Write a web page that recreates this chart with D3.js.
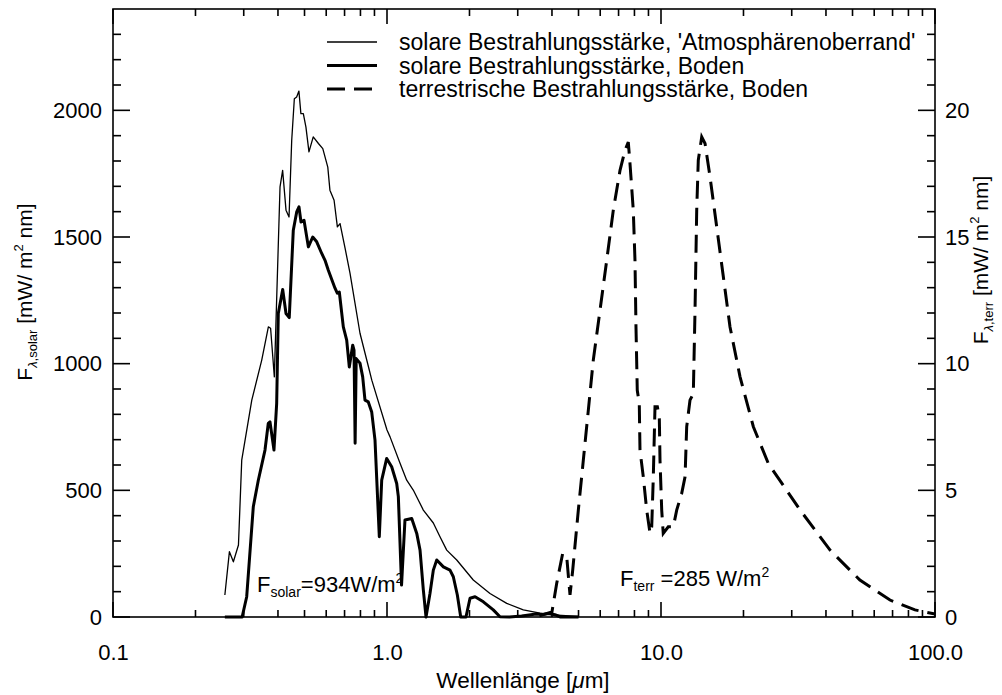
<!DOCTYPE html>
<html>
<head>
<meta charset="utf-8">
<script src="https://cdn.jsdelivr.net/npm/d3@7/dist/d3.min.js"></script>
<style>
  body { margin: 0; background: #fff; }
  text { font-family: "Liberation Sans", Arial, Helvetica, sans-serif; fill: #000; }
</style>
</head>
<body>
<div id="chart"></div>
<script>
// solar irradiance, top of atmosphere (mW / m2 nm), left axis
const toaWl = [0.256, 0.266, 0.275, 0.287, 0.295, 0.321, 0.349, 0.369, 0.376, 0.388,
  0.407, 0.416, 0.428, 0.439, 0.449, 0.459, 0.468, 0.477, 0.485, 0.495,
  0.506, 0.519, 0.538, 0.562, 0.583, 0.608, 0.619, 0.641, 0.659, 0.674,
  0.703, 0.733, 0.797, 0.862, 0.880, 1.0, 1.026, 1.115, 1.18, 1.247,
  1.357, 1.476, 1.561, 1.652, 1.797, 2.065, 2.376, 2.735, 3.144, 3.618, 4.036, 5.0];
const toaVal = [87, 258, 218, 284, 619, 856, 1014, 1145, 1140, 948,
  1698, 1763, 1606, 1579, 1882, 2046, 2053, 2076, 1987, 1987,
  1934, 1836, 1895, 1869, 1849, 1776, 1685, 1645, 1540, 1553,
  1456, 1356, 1120, 974, 935, 738, 711, 608, 540, 501,
  422, 371, 317, 264, 225, 146, 93, 54, 28, 15, 8, 2];

// solar irradiance at the ground (mW / m2 nm), left axis
const sfcWl = [0.256, 0.296, 0.3076, 0.3251, 0.3391, 0.3587, 0.3687, 0.3741, 0.3868, 0.3957,
  0.4011, 0.4162, 0.428, 0.4398, 0.455, 0.4682, 0.4773, 0.4854, 0.4979, 0.5164,
  0.5357, 0.554, 0.5778, 0.594, 0.6107, 0.646, 0.6585, 0.6698, 0.6927, 0.7127,
  0.7284, 0.7496, 0.758, 0.765, 0.772, 0.7969, 0.8152, 0.8311, 0.8545, 0.8795,
  0.9041, 0.9374, 0.9565, 0.9975, 1.04, 1.085, 1.1, 1.13, 1.163, 1.231,
  1.284, 1.32, 1.357, 1.388, 1.435, 1.476, 1.519, 1.606, 1.698, 1.746,
  1.806, 1.858, 1.942, 2.009, 2.096, 2.247, 2.443, 2.584, 2.8, 3.1,
  3.3, 3.5, 3.7, 3.9, 4.1, 4.3, 5.0];
const sfcVal = [0, 0, 80, 435, 540, 659, 764, 770, 659, 843,
  1198, 1293, 1198, 1182, 1527, 1599, 1619, 1559, 1566, 1461,
  1500, 1481, 1435, 1408, 1369, 1298, 1278, 1283, 1145, 1093,
  987, 1073, 1053, 686, 1020, 1002, 948, 856, 849, 809,
  698, 317, 540, 626, 593, 527, 475, 126, 383, 389,
  330, 264, 107, 0, 93, 185, 225, 198, 185, 159,
  87, 0, 0, 74, 80, 60, 28, 1, 0, 4,
  8, 12, 10, 14, 9, 0, 0];

// terrestrial irradiance at the ground (mW / m2 nm), right axis
const terWl = [3.6, 4.0, 4.163, 4.377, 4.528, 4.655, 4.762, 4.992, 5.206, 5.43,
  5.661, 5.99, 6.337, 6.698, 7.086, 7.389, 7.597, 7.706, 7.922, 8.036,
  8.104, 8.192, 8.332, 8.381, 8.618, 8.868, 9.12, 9.25, 9.374, 9.508,
  9.7, 9.858, 9.917, 10.06, 10.19, 10.63, 11.09, 11.41, 11.9, 12.24,
  12.41, 12.76, 13.12, 13.31, 13.5, 13.68, 14.08, 14.48, 15.1, 15.97,
  16.89, 17.86, 19.43, 21.73, 24.64, 32.2, 41.4, 53.2, 68.5, 84.5, 100];
const terVal = [0.05, 0.2, 1.33, 2.51, 2.38, 0.87, 1.85, 4.22, 6.19, 8.17,
  10.14, 12.11, 14.08, 16.06, 17.63, 18.42, 18.75, 17.9, 16.06, 14.08,
  11.45, 8.95, 8.43, 6.59, 5.53, 4.22, 3.3, 3.56, 5.53, 8.3,
  8.3, 7.9, 6.19, 4.22, 3.3, 3.56, 3.56, 4.22, 4.88, 5.53,
  7.51, 8.56, 8.82, 12.11, 16.06, 18.03, 18.95, 18.69, 17.37, 15.4,
  13.42, 11.45, 9.48, 7.51, 6.06, 4.22, 2.64, 1.46, 0.67, 0.28, 0.12];

// axis ticks and labels
const xMajor = [0.1, 1, 10, 100];
const xLabels = ["0.1", "1.0", "10.0", "100.0"];
const yLeftMajor = [0, 500, 1000, 1500, 2000];
const yRightMajor = [0, 5, 10, 15, 20];

const legendItems = [
  { label: "solare Bestrahlungsstärke, 'Atmosphärenoberrand'", width: 1.3, dash: null },
  { label: "solare Bestrahlungsstärke, Boden", width: 3, dash: null },
  { label: "terrestrische Bestrahlungsstärke, Boden", width: 3, dash: "18,9" }
];

const width = 1002, height = 695;
const plotL = 113, plotR = 935, plotT = 9, plotB = 617;

const svg = d3.select("#chart").append("svg")
  .attr("width", width)
  .attr("height", height);

const x = d3.scaleLog().domain([0.1, 100]).range([plotL, plotR]);
const yL = d3.scaleLinear().domain([0, 2400]).range([plotB, plotT]);
const yR = d3.scaleLinear().domain([0, 24]).range([plotB, plotT]);

// minor tick positions
const xMinor = [];
[0.1, 1, 10].forEach(function (d) {
  for (let k = 2; k <= 9; k++) xMinor.push(d * k);
});
const yLeftMinor = d3.range(100, 2400, 100).filter(function (v) { return v % 500 !== 0; });
const yRightMinor = d3.range(1, 24, 1).filter(function (v) { return v % 5 !== 0; });

// frame
svg.append("rect")
  .attr("x", plotL).attr("y", plotT)
  .attr("width", plotR - plotL).attr("height", plotB - plotT)
  .attr("fill", "none").attr("stroke", "#000").attr("stroke-width", 1.6);

// tick marks (pointing into the plot), as small filled rects
const tickG = svg.append("g").attr("fill", "#000");
function xTick(d, len) {
  tickG.append("rect").attr("x", x(d) - 0.8).attr("y", plotB - len).attr("width", 1.6).attr("height", len);
  tickG.append("rect").attr("x", x(d) - 0.8).attr("y", plotT).attr("width", 1.6).attr("height", len);
}
xMinor.forEach(function (d) { xTick(d, 7); });
xMajor.forEach(function (d) { xTick(d, 15); });
function yTick(yy, x0, len) {
  tickG.append("rect").attr("x", len > 0 ? x0 : x0 + len).attr("y", yy - 0.8)
    .attr("width", Math.abs(len)).attr("height", 1.6);
}
yLeftMinor.forEach(function (d) { yTick(yL(d), plotL, 8); });
yLeftMajor.forEach(function (d) { yTick(yL(d), plotL, 17); });
yRightMinor.forEach(function (d) { yTick(yR(d), plotR, -8); });
yRightMajor.forEach(function (d) { yTick(yR(d), plotR, -17); });

// tick labels
function styleAxis(g) {
  g.select(".domain").remove();
  g.selectAll("line").remove();
  g.selectAll("text").attr("font-size", 22).attr("fill", "#000")
    .style("font-family", "'Liberation Sans', Arial, sans-serif");
}
svg.append("g").attr("transform", "translate(0," + plotB + ")")
  .call(d3.axisBottom(x).tickValues(xMajor).tickSize(0).tickPadding(27)
    .tickFormat(function (d, i) { return xLabels[i]; }))
  .call(styleAxis);
svg.append("g").attr("transform", "translate(" + plotL + ",0)")
  .call(d3.axisLeft(yL).tickValues(yLeftMajor).tickSize(0).tickPadding(11)
    .tickFormat(d3.format("d")))
  .call(styleAxis);
svg.append("g").attr("transform", "translate(" + plotR + ",0)")
  .call(d3.axisRight(yR).tickValues(yRightMajor).tickSize(0).tickPadding(10)
    .tickFormat(d3.format("d")))
  .call(styleAxis);

// curves
const lineL = d3.line().x(function (d) { return x(d[0]); }).y(function (d) { return yL(d[1]); });
const lineR = d3.line().x(function (d) { return x(d[0]); }).y(function (d) { return yR(d[1]); });

const plot = svg.append("g");
plot.append("path")
  .datum(d3.zip(toaWl, toaVal))
  .attr("d", lineL)
  .attr("fill", "none").attr("stroke", "#000").attr("stroke-width", 1.3)
  .attr("stroke-linejoin", "round");
plot.append("path")
  .datum(d3.zip(sfcWl, sfcVal))
  .attr("d", lineL)
  .attr("fill", "none").attr("stroke", "#000").attr("stroke-width", 3)
  .attr("stroke-linejoin", "round");
plot.append("path")
  .datum(d3.zip(terWl, terVal))
  .attr("d", lineR)
  .attr("fill", "none").attr("stroke", "#000").attr("stroke-width", 3)
  .attr("stroke-dasharray", "18,9");

// legend
const legend = svg.append("g");
legendItems.forEach(function (d, i) {
  const ly = 42 + i * 23.5;
  legend.append("line")
    .attr("x1", 327).attr("x2", 377).attr("y1", ly).attr("y2", ly)
    .attr("stroke", "#000").attr("stroke-width", d.width)
    .attr("stroke-dasharray", d.dash);
  legend.append("text")
    .attr("x", 399).attr("y", ly + 8)
    .attr("font-size", 23)
    .text(d.label);
});

// annotations
const fs = svg.append("text").attr("x", 257).attr("y", 592).attr("font-size", 22);
fs.append("tspan").text("F");
fs.append("tspan").attr("font-size", 14).attr("dy", 5).text("solar");
fs.append("tspan").attr("dy", -5).text("=934W/m");
fs.append("tspan").attr("font-size", 14).attr("dy", -9).text("2");

const ft = svg.append("text").attr("x", 620).attr("y", 586).attr("font-size", 22);
ft.append("tspan").text("F");
ft.append("tspan").attr("font-size", 14).attr("dy", 5).text("terr");
ft.append("tspan").attr("dy", -5).text(" =285 W/m");
ft.append("tspan").attr("font-size", 14).attr("dy", -9).text("2");

// axis titles
svg.append("text")
  .attr("x", (plotL + plotR) / 2 - 1).attr("y", 688)
  .attr("text-anchor", "middle").attr("font-size", 22.5)
  .call(function (t) {
    t.append("tspan").text("Wellenlänge [");
    t.append("tspan").attr("font-style", "italic").text("μ");
    t.append("tspan").text("m]");
  });

function yTitle(cx, cy, sub) {
  const t = svg.append("text")
    .attr("transform", "translate(" + cx + "," + cy + ") rotate(-90)")
    .attr("text-anchor", "middle").attr("font-size", 21);
  t.append("tspan").text("F");
  t.append("tspan").attr("font-size", 13).attr("dy", 5)
    .call(function (s) {
      s.append("tspan").attr("font-style", "italic").text("λ");
      s.append("tspan").text("," + sub);
    });
  t.append("tspan").attr("dy", -5).text(" [mW/ m");
  t.append("tspan").attr("font-size", 13).attr("dy", -9).text("2");
  t.append("tspan").attr("dy", 9).text(" nm]");
}
yTitle(32, 292, "solar");
yTitle(988, 260, "terr");
</script>
</body>
</html>
